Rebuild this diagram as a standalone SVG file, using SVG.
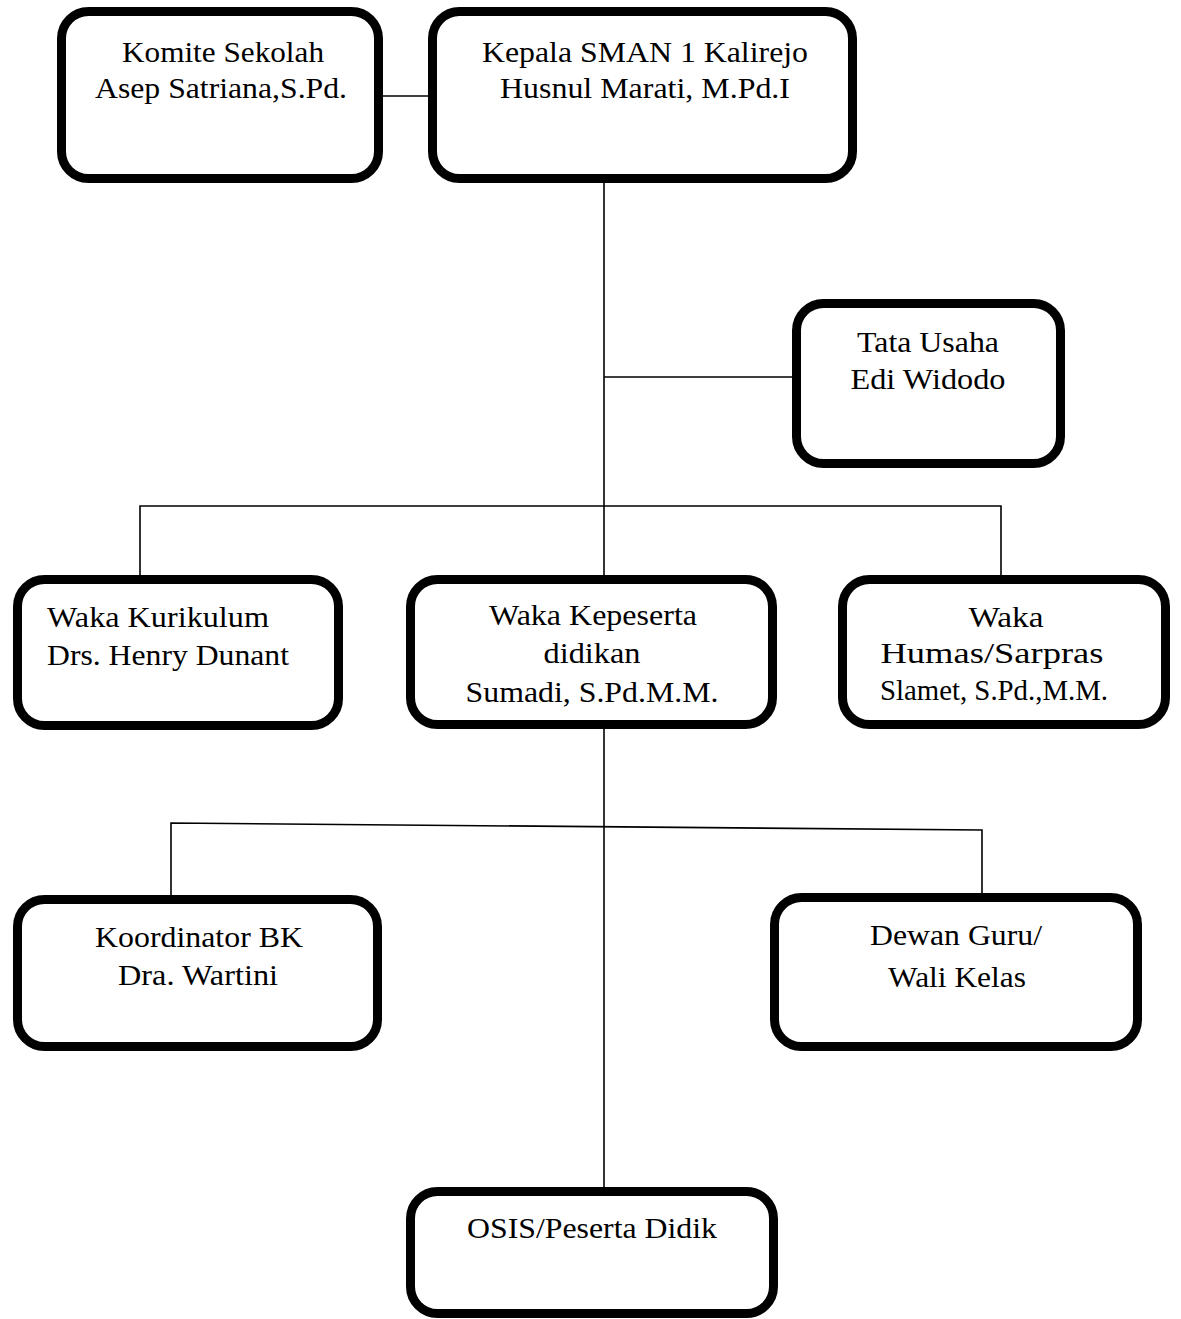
<svg xmlns="http://www.w3.org/2000/svg" width="1181" height="1319" viewBox="0 0 1181 1319">
<style>
.box{fill:#fff;stroke:#000;stroke-width:9}
.ln{fill:none;stroke:#000;stroke-width:1.6}
text{font-family:"Liberation Serif","Times New Roman",serif;font-size:29px;fill:#000}
.c{text-anchor:middle}
</style>
<rect width="1181" height="1319" fill="#fff"/>
<g id="connectors">
<line class="ln" x1="383" y1="96" x2="428" y2="96"/>
<line class="ln" x1="604" y1="183" x2="604" y2="575"/>
<line class="ln" x1="604" y1="377" x2="792" y2="377"/>
<polyline class="ln" points="140,575 140,506 1001,506 1001,575"/>
<line class="ln" x1="604" y1="729" x2="604" y2="1187"/>
<polyline class="ln" points="171,895 171,823 982,830 982,893"/>
</g>
<g id="komite">
<rect class="box" x="61.5" y="11.5" width="317" height="167" rx="27"/>
<text class="c" x="223" y="62" textLength="202" lengthAdjust="spacingAndGlyphs">Komite Sekolah</text>
<text class="c" x="221" y="98" textLength="252" lengthAdjust="spacingAndGlyphs">Asep Satriana,S.Pd.</text>
</g>
<g id="kepala">
<rect class="box" x="432.5" y="11.5" width="420" height="167" rx="27"/>
<text class="c" x="645" y="62" textLength="326" lengthAdjust="spacingAndGlyphs">Kepala SMAN 1 Kalirejo</text>
<text class="c" x="645" y="98" textLength="290" lengthAdjust="spacingAndGlyphs">Husnul Marati, M.Pd.I</text>
</g>
<g id="tatausaha">
<rect class="box" x="796.5" y="303.5" width="264" height="160" rx="27"/>
<text class="c" x="928" y="352" textLength="142" lengthAdjust="spacingAndGlyphs">Tata Usaha</text>
<text class="c" x="928" y="389" textLength="155" lengthAdjust="spacingAndGlyphs">Edi Widodo</text>
</g>
<g id="kurikulum">
<rect class="box" x="17.5" y="579.5" width="321" height="146" rx="27"/>
<text x="47" y="627" textLength="222" lengthAdjust="spacingAndGlyphs">Waka Kurikulum</text>
<text x="47" y="665" textLength="242" lengthAdjust="spacingAndGlyphs">Drs. Henry Dunant</text>
</g>
<g id="kesiswaan">
<rect class="box" x="410.5" y="579.5" width="362" height="145" rx="27"/>
<text class="c" x="593" y="625" textLength="208" lengthAdjust="spacingAndGlyphs">Waka Kepeserta</text>
<text class="c" x="592" y="663" textLength="97" lengthAdjust="spacingAndGlyphs">didikan</text>
<text class="c" x="592" y="702" textLength="253" lengthAdjust="spacingAndGlyphs">Sumadi, S.Pd.M.M.</text>
</g>
<g id="humas">
<rect class="box" x="842.5" y="579.5" width="323" height="145" rx="27"/>
<text class="c" x="1006" y="627" textLength="75" lengthAdjust="spacingAndGlyphs">Waka</text>
<text class="c" x="992" y="663" textLength="223" lengthAdjust="spacingAndGlyphs">Humas/Sarpras</text>
<text class="c" x="994" y="700" textLength="228" lengthAdjust="spacingAndGlyphs">Slamet, S.Pd.,M.M.</text>
</g>
<g id="bk">
<rect class="box" x="17.5" y="899.5" width="360" height="147" rx="27"/>
<text class="c" x="199" y="947" textLength="208" lengthAdjust="spacingAndGlyphs">Koordinator BK</text>
<text class="c" x="198" y="985" textLength="160" lengthAdjust="spacingAndGlyphs">Dra. Wartini</text>
</g>
<g id="dewanguru">
<rect class="box" x="774.5" y="897.5" width="363" height="149" rx="27"/>
<text class="c" x="956" y="945" textLength="172" lengthAdjust="spacingAndGlyphs">Dewan Guru/</text>
<text class="c" x="957" y="987" textLength="138" lengthAdjust="spacingAndGlyphs">Wali Kelas</text>
</g>
<g id="osis">
<rect class="box" x="410.5" y="1191.5" width="363" height="122" rx="27"/>
<text class="c" x="592" y="1238" textLength="250" lengthAdjust="spacingAndGlyphs">OSIS/Peserta Didik</text>
</g>
</svg>
